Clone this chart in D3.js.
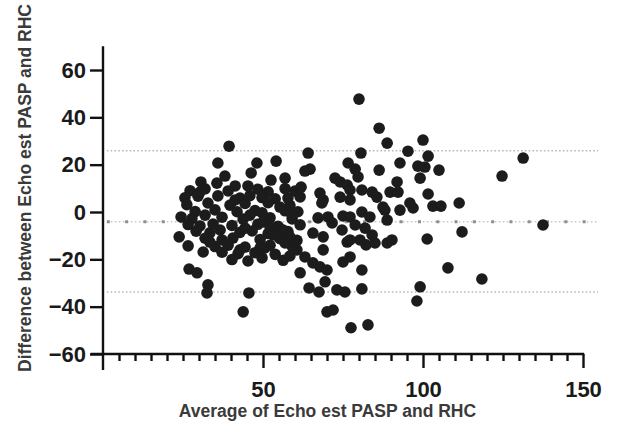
<!DOCTYPE html>
<html><head><meta charset="utf-8">
<script src="https://cdn.jsdelivr.net/npm/d3@7"></script>
<style>body{margin:0;background:#fff}svg{display:block}</style>
</head><body><svg id="c" width="632" height="421"></svg>
<script>
// [average, difference] pairs
const leftCluster = [
[24.4,-2.1],[23.8,-10.5],[26.6,-14.3],[31.3,-16.9],[26.9,-24.1],[29.4,-25.7],[32.8,-30.8],[32.5,-34.2],
[30.6,12.7],[35.9,20.7],[35.6,12.2],[39.4,27.8],[41.3,11.0],[45.3,11.0],[48.1,20.7],[54.1,21.5],[46.3,16.5],
[45.6,-34.2],[43.8,-42.2],[49.7,-19.4],[49.1,-15.2],[52.5,13.5],[56.9,14.3],[38.1,15.2],
[27.2,9.0],[31.9,9.8],[39.1,8.9],[48.4,9.6],[51.6,8.5],[56.9,9.9],[60.0,8.8],
[25.6,6.0],[29.7,6.7],[42.8,5.9],[45.9,6.9],[49.7,6.1],[53.8,5.6],[61.6,6.4],
[26.2,3.1],[32.8,3.8],[39.7,2.9],[44.4,3.6],[51.6,3.9],[58.4,2.8],
[28.8,0.2],[35.0,0.9],[41.9,0.1],[47.5,0.6],[49.7,-0.3],[56.9,0.5],[60.9,0.1],
[27.8,-2.8],[37.2,-2.2],[43.8,-3.0],[52.2,-2.4],[59.1,-2.9],
[26.6,-5.3],[30.3,-5.9],[34.4,-5.1],[40.3,-5.7],[48.4,-5.2],[54.7,-6.0],[61.6,-5.4],
[29.1,-8.1],[33.4,-8.8],[42.8,-8.6],[46.6,-8.0],[51.6,-9.1],[57.8,-8.3],
[31.9,-11.1],[37.2,-11.8],[40.6,-11.0],[49.1,-11.6],[55.3,-11.3],[60.6,-12.0],
[35.0,-14.6],[39.1,-14.0],[44.4,-14.8],[52.2,-14.1],[59.1,-14.5],
[37.2,-17.0],[42.2,-17.6],[47.5,-17.2],[53.8,-17.9],
[40.3,-20.1],[45.3,-20.7],[56.3,-20.4],
[30.3,8.4],[35.9,6.8],[41.3,5.1],[55.3,2.1],[59.1,-1.3],[31.9,-1.3],[45.9,-1.3],[50.0,-4.2],
[36.6,-7.6],[54.7,-10.1],[42.8,-16.0],[50.6,-15.2],[58.4,-18.6],[33.4,-12.7],[44.4,-6.8],
[58.4,-10.5],[52.2,-6.3],[53.1,-9.7],[56.3,-7.6],[67.8,-23.2],[56.9,-13.1],[57.8,5.9]
];
const middleCluster = [
[64.1,24.9],[64.7,18.1],[63.1,17.3],[76.6,20.7],[78.8,18.1],[79.7,14.8],[72.5,14.3],[74.1,12.7],[76.3,11.4],
[61.9,10.5],[67.8,8.0],[68.8,5.1],[74.1,6.3],[77.2,5.1],[67.2,-2.5],[70.3,-2.1],[71.6,-4.6],[75.0,-1.7],
[65.6,-8.9],[68.8,-10.5],[74.7,-7.6],[76.3,-12.7],[68.8,-16.0],[60.6,-16.0],[63.1,-19.0],[65.6,-21.5],
[70.0,-24.5],[77.2,-19.0],[75.0,-21.1],[61.6,-25.7],[69.4,-29.5],[80.9,-24.5],[64.4,-32.1],[67.5,-33.8],
[73.1,-32.9],[75.6,-33.8],[80.9,-32.5],[70.0,-42.2],[71.9,-41.4],[77.5,-48.9],[82.8,-47.7],[80.0,47.7],
[80.6,24.9],[77.2,9.3],[77.2,-2.1],[68.4,3.8],[88.1,0.8],[77.2,-11.8]
];
const rightCluster = [
[86.3,35.4],[88.8,29.1],[100.0,30.4],[95.3,25.7],[92.8,20.7],[101.6,23.6],[98.4,19.4],[100.6,19.0],
[105.0,17.7],[86.3,17.7],[99.1,14.3],[91.9,12.7],[89.7,8.4],[92.2,8.4],[80.9,9.3],[84.1,8.4],[85.6,6.3],
[87.5,2.1],[101.6,7.6],[103.1,2.5],[105.6,2.5],[92.8,0.8],[95.9,3.8],[96.9,1.7],[88.8,-3.4],[80.9,0.0],
[83.4,-2.1],[81.9,-6.8],[84.1,-9.7],[82.2,-13.9],[85.0,-13.1],[80.3,-11.8],[78.8,-5.5],[88.8,-13.1],
[90.3,-11.8],[101.3,-11.4],[107.8,-23.6],[99.1,-31.6],[98.1,-37.6],
[131.3,22.8],[124.7,15.2],[111.3,3.8],[137.5,-5.5],[112.2,-8.4],[118.4,-28.3]
];
const meanDiff = -4.1;
const limitsOfAgreement = [25.9, -33.8];
const xTickValues = [50, 100, 150];
const xMinorTickValues = [5,10,15,20,25,30,35,40,45,55,60,65,70,75,80,85,90,95,105,110,115,120,125,130,135,140,145];
const yTickValues = [-60, -40, -20, 0, 20, 40, 60];
const xTitle = "Average of Echo est PASP and RHC";
const yTitle = "Difference between Echo est PASP and RHC";

const points = leftCluster.concat(middleCluster, rightCluster);
const svg = d3.select("#c");
const font = "'Liberation Sans', Arial, Helvetica, sans-serif";
const x = d3.scaleLinear().domain([0, 150]).range([103, 583]);
const y = d3.scaleLinear().domain([-60, 60]).range([354, 70]);

// reference lines
const lineX0 = x(1.2), lineX1 = x(154.7);
svg.selectAll("line.loa").data(limitsOfAgreement).join("line")
  .attr("class", "loa")
  .attr("x1", lineX0).attr("x2", lineX1)
  .attr("y1", d => y(d)).attr("y2", d => y(d))
  .attr("stroke", "#b8b8b8").attr("stroke-width", 1.6).attr("stroke-dasharray", "1.6,2.2");
svg.append("line")
  .attr("x1", lineX0).attr("x2", lineX1).attr("y1", y(meanDiff)).attr("y2", y(meanDiff))
  .attr("stroke", "#c8c8c8").attr("stroke-width", 1.6).attr("stroke-dasharray", "1.6,2.4");
svg.append("line")
  .attr("x1", lineX0).attr("x2", lineX1).attr("y1", y(meanDiff)).attr("y2", y(meanDiff))
  .attr("stroke", "#8e8e8e").attr("stroke-width", 3).attr("stroke-dasharray", "3,15.3");

// points
svg.append("g").selectAll("circle").data(points).join("circle")
  .attr("cx", d => x(d[0])).attr("cy", d => y(d[1])).attr("r", 5.8)
  .attr("fill", "#1c1c1c");

// axes
const axisStroke = 2.4;
const yAxis = svg.append("g").attr("transform", `translate(${x(0)},0)`)
  .call(d3.axisLeft(y).tickValues(yTickValues).tickSize(13).tickSizeOuter(0).tickPadding(4));
yAxis.select(".domain").remove();
yAxis.selectAll(".tick line").attr("stroke", "#111").attr("stroke-width", axisStroke);
yAxis.selectAll("text").attr("font-family", font).attr("font-weight", "bold")
  .attr("font-size", 22).attr("fill", "#1a1a1a");

const xMinor = svg.append("g").attr("transform", `translate(0,${y(-60)})`)
  .call(d3.axisBottom(x).tickValues(xMinorTickValues).tickSize(7).tickSizeOuter(0).tickFormat(""));
xMinor.select(".domain").remove();
xMinor.selectAll(".tick line").attr("stroke", "#111").attr("stroke-width", axisStroke);

const xAxis = svg.append("g").attr("transform", `translate(0,${y(-60)})`)
  .call(d3.axisBottom(x).tickValues(xTickValues).tickSize(14).tickSizeOuter(0).tickPadding(13));
xAxis.select(".domain").remove();
xAxis.selectAll(".tick line").attr("stroke", "#111").attr("stroke-width", axisStroke);
xAxis.selectAll("text").attr("font-family", font).attr("font-weight", "bold")
  .attr("font-size", 22).attr("fill", "#1a1a1a");

// axis lines
svg.append("line").attr("x1", x(0)).attr("x2", x(0)).attr("y1", y(70)).attr("y2", y(-66.8))
  .attr("stroke", "#111").attr("stroke-width", axisStroke);
svg.append("line").attr("x1", x(-3.5)).attr("x2", x(150)).attr("y1", y(-60)).attr("y2", y(-60))
  .attr("stroke", "#111").attr("stroke-width", axisStroke).attr("stroke-linecap", "square");

// titles
svg.append("text").attr("x", 327.5).attr("y", 417).attr("text-anchor", "middle")
  .attr("font-family", font).attr("font-weight", "bold").attr("font-size", 17.5)
  .attr("fill", "#3a3a3a").text(xTitle);
svg.append("text").attr("transform", "translate(31,188) rotate(-90)").attr("text-anchor", "middle")
  .attr("font-family", font).attr("font-weight", "bold").attr("font-size", 17.5)
  .attr("fill", "#3a3a3a").text(yTitle);
</script></body></html>
